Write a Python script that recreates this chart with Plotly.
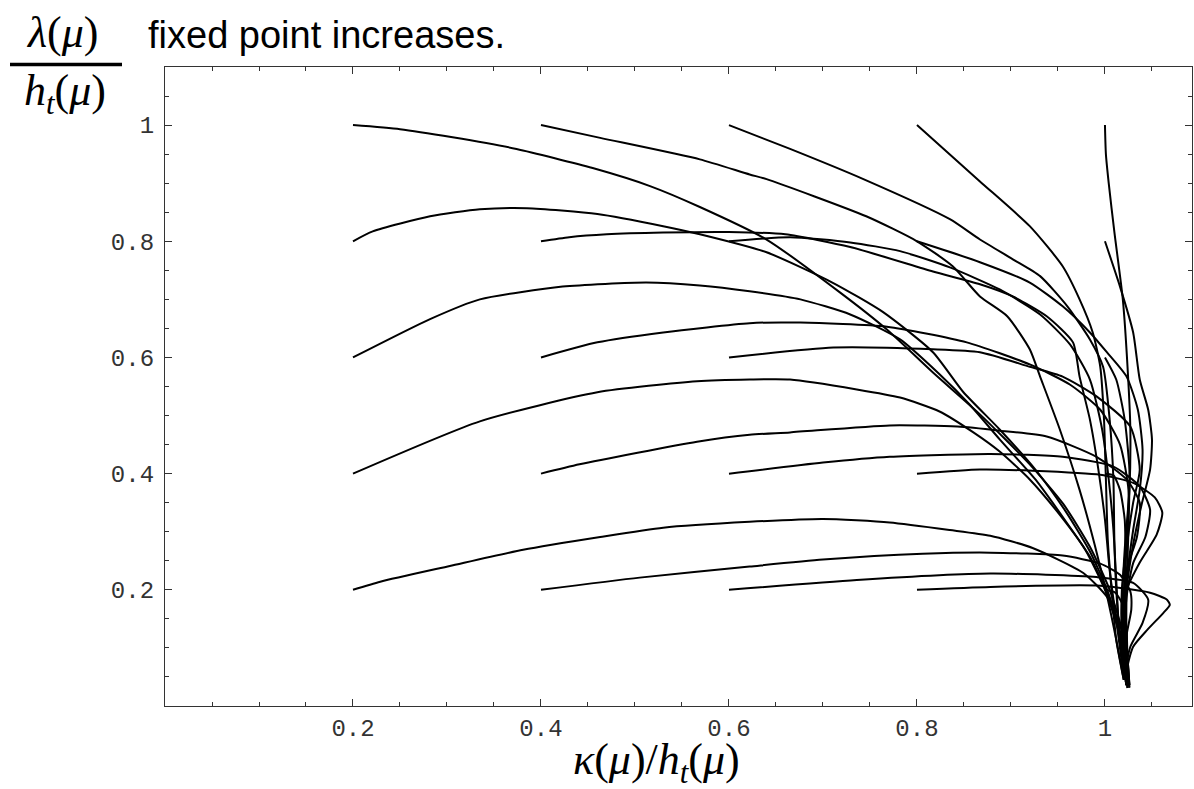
import plotly.graph_objects as go

# Flow trajectories in the (kappa/h_t, lambda/h_t) plane.
# Each trajectory starts on a grid point (kappa0, lambda0).

# lambda0 = 1.0
k_02_10 = [0.200, 0.250, 0.306, 0.374, 0.455, 0.516, 0.569, 0.640, 0.718, 0.768, 0.817, 0.867, 0.920, 0.956, 0.984, 1.005, 1.018, 1.024]
l_02_10 = [1.000, 0.993, 0.979, 0.959, 0.926, 0.895, 0.859, 0.803, 0.712, 0.648, 0.574, 0.502, 0.416, 0.347, 0.274, 0.200, 0.131, 0.053]

k_04_10 = [0.400, 0.463, 0.569, 0.622, 0.640, 0.746, 0.800, 0.838, 0.867, 0.896, 0.920, 0.931, 0.952, 0.973, 0.989, 1.002, 1.012, 1.020]
l_04_10 = [1.000, 0.978, 0.941, 0.915, 0.907, 0.843, 0.800, 0.757, 0.705, 0.671, 0.614, 0.567, 0.476, 0.372, 0.278, 0.191, 0.114, 0.045]

k_06_10 = [0.600, 0.665, 0.743, 0.835, 0.867, 0.902, 0.931, 0.960, 0.984, 0.998, 1.005, 1.009, 1.010, 1.012, 1.016, 1.021]
l_06_10 = [1.000, 0.959, 0.907, 0.838, 0.803, 0.769, 0.740, 0.688, 0.631, 0.584, 0.493, 0.390, 0.286, 0.200, 0.114, 0.045]

k_08_10 = [0.800, 0.867, 0.920, 0.955, 0.973, 0.987, 0.995, 0.999, 1.001, 1.003, 1.007, 1.012, 1.020]
l_08_10 = [1.000, 0.903, 0.826, 0.757, 0.700, 0.643, 0.584, 0.493, 0.390, 0.286, 0.200, 0.114, 0.045]

k_10_10 = [1.000, 1.001, 1.004, 1.010, 1.019, 1.024, 1.027, 1.026, 1.021, 1.018, 1.020, 1.023]
l_10_10 = [1.000, 0.950, 0.900, 0.816, 0.700, 0.584, 0.476, 0.372, 0.269, 0.166, 0.079, 0.036]

# lambda0 = 0.8
k_02_08 = [0.200, 0.221, 0.282, 0.335, 0.385, 0.460, 0.530, 0.569, 0.640, 0.710, 0.764, 0.817, 0.849, 0.888, 0.926, 0.957, 0.984, 1.003, 1.016, 1.022]
l_02_08 = [0.800, 0.817, 0.843, 0.855, 0.857, 0.847, 0.826, 0.812, 0.781, 0.729, 0.678, 0.609, 0.541, 0.476, 0.407, 0.338, 0.266, 0.197, 0.128, 0.053]

k_04_08 = [0.400, 0.430, 0.470, 0.530, 0.600, 0.660, 0.729, 0.817, 0.867, 0.902, 0.938, 0.966, 0.973, 0.984, 0.993, 1.000, 1.005, 1.012, 1.019]
l_04_08 = [0.800, 0.807, 0.812, 0.815, 0.816, 0.812, 0.790, 0.748, 0.726, 0.705, 0.671, 0.626, 0.567, 0.493, 0.407, 0.321, 0.234, 0.148, 0.062]

k_06_08 = [0.600, 0.665, 0.729, 0.782, 0.835, 0.888, 0.931, 0.963, 0.984, 0.997, 1.004, 1.009, 1.012, 1.015, 1.020]
l_06_08 = [0.800, 0.807, 0.798, 0.783, 0.755, 0.717, 0.674, 0.622, 0.562, 0.476, 0.390, 0.303, 0.217, 0.131, 0.055]

k_08_08 = [0.800, 0.867, 0.920, 0.955, 0.984, 1.002, 1.023, 1.035, 1.040, 1.037, 1.030, 1.023, 1.020, 1.022]
l_08_08 = [0.800, 0.764, 0.729, 0.688, 0.643, 0.609, 0.567, 0.510, 0.441, 0.372, 0.303, 0.217, 0.131, 0.045]

k_10_08 = [1.000, 1.016, 1.030, 1.037, 1.046, 1.050, 1.048, 1.039, 1.030, 1.023, 1.021, 1.023]
l_10_08 = [0.800, 0.722, 0.643, 0.562, 0.510, 0.459, 0.407, 0.347, 0.278, 0.200, 0.114, 0.036]

# lambda0 = 0.6
k_02_06 = [0.200, 0.282, 0.335, 0.423, 0.512, 0.569, 0.622, 0.676, 0.729, 0.782, 0.824, 0.856, 0.888, 0.926, 0.957, 0.984, 1.003, 1.016, 1.022]
l_02_06 = [0.600, 0.666, 0.700, 0.722, 0.729, 0.724, 0.714, 0.700, 0.674, 0.631, 0.571, 0.519, 0.459, 0.390, 0.321, 0.257, 0.191, 0.122, 0.048]

k_04_06 = [0.400, 0.460, 0.530, 0.622, 0.676, 0.768, 0.853, 0.920, 0.963, 0.995, 1.016, 1.025, 1.023, 1.018, 1.018, 1.022]
l_04_06 = [0.600, 0.626, 0.643, 0.659, 0.660, 0.653, 0.626, 0.588, 0.553, 0.510, 0.450, 0.372, 0.286, 0.200, 0.114, 0.041]

k_06_06 = [0.600, 0.711, 0.817, 0.867, 0.920, 0.955, 0.991, 1.027, 1.037, 1.030, 1.023, 1.020, 1.020, 1.023]
l_06_06 = [0.600, 0.617, 0.614, 0.609, 0.584, 0.567, 0.533, 0.481, 0.407, 0.350, 0.269, 0.183, 0.097, 0.036]

k_10_06 = [1.000, 1.012, 1.021, 1.026, 1.025, 1.023, 1.023, 1.026]
l_10_06 = [0.600, 0.562, 0.493, 0.407, 0.303, 0.200, 0.114, 0.036]

# lambda0 = 0.4
k_02_04 = [0.200, 0.335, 0.460, 0.566, 0.622, 0.665, 0.736, 0.782, 0.824, 0.860, 0.888, 0.920, 0.952, 0.979, 1.000, 1.014, 1.021]
l_02_04 = [0.400, 0.490, 0.540, 0.559, 0.562, 0.562, 0.545, 0.531, 0.507, 0.471, 0.438, 0.390, 0.329, 0.269, 0.200, 0.131, 0.053]

k_04_04 = [0.400, 0.441, 0.566, 0.622, 0.665, 0.771, 0.843, 0.888, 0.938, 0.991, 1.023, 1.037, 1.034, 1.023, 1.019, 1.020, 1.023]
l_04_04 = [0.400, 0.416, 0.455, 0.467, 0.471, 0.483, 0.481, 0.474, 0.464, 0.429, 0.390, 0.350, 0.291, 0.234, 0.165, 0.097, 0.036]

k_06_04 = [0.600, 0.700, 0.771, 0.878, 0.955, 1.009, 1.037, 1.048, 1.043, 1.030, 1.023, 1.021, 1.023]
l_06_04 = [0.400, 0.419, 0.429, 0.434, 0.429, 0.412, 0.378, 0.338, 0.291, 0.246, 0.188, 0.114, 0.036]

k_08_04 = [0.800, 0.867, 0.923, 0.995, 1.030, 1.053, 1.061, 1.055, 1.037, 1.023, 1.018, 1.019, 1.023]
l_08_04 = [0.400, 0.407, 0.405, 0.398, 0.384, 0.359, 0.333, 0.295, 0.247, 0.200, 0.148, 0.088, 0.036]

k_10_04 = [1.000, 1.009, 1.016, 1.021, 1.022, 1.022, 1.023, 1.025]
l_10_04 = [0.400, 0.397, 0.372, 0.321, 0.252, 0.166, 0.097, 0.036]

# lambda0 = 0.2
k_02_02 = [0.200, 0.229, 0.303, 0.381, 0.463, 0.530, 0.622, 0.700, 0.771, 0.835, 0.878, 0.923, 0.977, 1.002, 1.016, 1.024, 1.026]
l_02_02 = [0.200, 0.214, 0.241, 0.269, 0.291, 0.307, 0.317, 0.322, 0.316, 0.303, 0.293, 0.272, 0.229, 0.188, 0.140, 0.079, 0.036]

k_04_02 = [0.400, 0.505, 0.622, 0.700, 0.806, 0.878, 0.955, 0.995, 1.016, 1.027, 1.028, 1.023, 1.022, 1.024]
l_04_02 = [0.200, 0.221, 0.240, 0.252, 0.262, 0.264, 0.259, 0.245, 0.226, 0.197, 0.166, 0.122, 0.071, 0.031]

k_06_02 = [0.600, 0.736, 0.878, 0.991, 1.030, 1.046, 1.040, 1.027, 1.022, 1.024]
l_06_02 = [0.200, 0.217, 0.228, 0.222, 0.212, 0.183, 0.143, 0.102, 0.062, 0.031]

k_08_02 = [0.800, 0.878, 0.995, 1.048, 1.066, 1.069, 1.062, 1.045, 1.030, 1.024, 1.026]
l_08_02 = [0.200, 0.205, 0.207, 0.195, 0.183, 0.174, 0.160, 0.131, 0.102, 0.067, 0.031]

k_10_02 = [1.000, 1.011, 1.019, 1.023, 1.024, 1.026]
l_10_02 = [0.200, 0.195, 0.174, 0.131, 0.079, 0.033]

trajectories = [
    (k_02_10, l_02_10), (k_04_10, l_04_10), (k_06_10, l_06_10), (k_08_10, l_08_10), (k_10_10, l_10_10),
    (k_02_08, l_02_08), (k_04_08, l_04_08), (k_06_08, l_06_08), (k_08_08, l_08_08), (k_10_08, l_10_08),
    (k_02_06, l_02_06), (k_04_06, l_04_06), (k_06_06, l_06_06), (k_10_06, l_10_06),
    (k_02_04, l_02_04), (k_04_04, l_04_04), (k_06_04, l_06_04), (k_08_04, l_08_04), (k_10_04, l_10_04),
    (k_02_02, l_02_02), (k_04_02, l_04_02), (k_06_02, l_06_02), (k_08_02, l_08_02), (k_10_02, l_10_02),
]

major_ticks = [0.2, 0.4, 0.6, 0.8, 1.0]
major_text = ["0.2", "0.4", "0.6", "0.8", "1"]
x_minor = [0.05, 0.1, 0.15, 0.25, 0.3, 0.35, 0.45, 0.5, 0.55, 0.65, 0.7, 0.75, 0.85, 0.9, 0.95, 1.05]
y_minor = [0.05, 0.1, 0.15, 0.25, 0.3, 0.35, 0.45, 0.5, 0.55, 0.65, 0.7, 0.75, 0.85, 0.9, 0.95, 1.05]

W, H = 1194, 789
L, R, T, B = 165, 2, 67, 83
PW, PH = W - L - R, H - T - B


def px(xp, yp):
    """Convert a pixel position on the page to paper coordinates."""
    return (xp - L) / PW, (H - B - yp) / PH


fig = go.Figure()
for k, l in trajectories:
    fig.add_trace(go.Scatter(
        x=k, y=l, mode="lines",
        line=dict(color="black", width=2, shape="spline", smoothing=0.6),
        hoverinfo="skip", showlegend=False,
    ))

frame = "#333333"
tick_font = dict(family="Liberation Mono, Courier New, monospace", size=24, color="#333333")
axis_common = dict(
    showline=True, linecolor=frame, linewidth=1.3, mirror="allticks",
    ticks="inside", ticklen=7, tickwidth=1.2, tickcolor=frame,
    tickmode="array", tickvals=major_ticks, ticktext=major_text,
    showgrid=False, zeroline=False, tickfont=tick_font,
)
fig.update_xaxes(range=[0, 1.0926], minor=dict(ticks="inside", ticklen=4, tickwidth=1, tickcolor=frame,
                                               tickvals=x_minor, showgrid=False),
                 ticklabelstandoff=0, **axis_common)
fig.update_yaxes(range=[0, 1.1], minor=dict(ticks="inside", ticklen=4, tickwidth=1, tickcolor=frame,
                                            tickvals=y_minor, showgrid=False),
                 ticklabelstandoff=5, **axis_common)

serif = "Liberation Serif, DejaVu Serif, serif"
annotations = []
ax, ay = px(62, 33)
annotations.append(dict(text="<i>λ</i>(<i>μ</i>)", x=ax, y=ay, xref="paper", yref="paper",
                        xanchor="center", yanchor="middle", showarrow=False,
                        font=dict(family=serif, size=44, color="black")))
ax, ay = px(65, 93)
annotations.append(dict(text="<i>h</i><sub><i>t</i></sub>(<i>μ</i>)", x=ax, y=ay, xref="paper", yref="paper",
                        xanchor="center", yanchor="middle", showarrow=False,
                        font=dict(family=serif, size=44, color="black")))
ax, ay = px(146, 35)
annotations.append(dict(text="fixed point increases.", x=ax, y=ay, xref="paper", yref="paper",
                        xanchor="left", yanchor="middle", showarrow=False,
                        font=dict(family="Liberation Sans, Arial, sans-serif", size=38, color="black")))
ax, ay = px(656, 762)
annotations.append(dict(text="<i>κ</i>(<i>μ</i>)/<i>h</i><sub><i>t</i></sub>(<i>μ</i>)", x=ax, y=ay,
                        xref="paper", yref="paper", xanchor="center", yanchor="middle", showarrow=False,
                        font=dict(family=serif, size=44, color="black")))

bx0, by = px(10, 64.5)
bx1, _ = px(122, 64.5)
fig.add_shape(type="line", xref="paper", yref="paper", x0=bx0, x1=bx1, y0=by, y1=by,
              line=dict(color="black", width=3.5))

fig.update_layout(
    width=W, height=H, margin=dict(l=L, r=R, t=T, b=B),
    paper_bgcolor="white", plot_bgcolor="white",
    annotations=annotations, showlegend=False,
)

fig.write_html("out.html")
